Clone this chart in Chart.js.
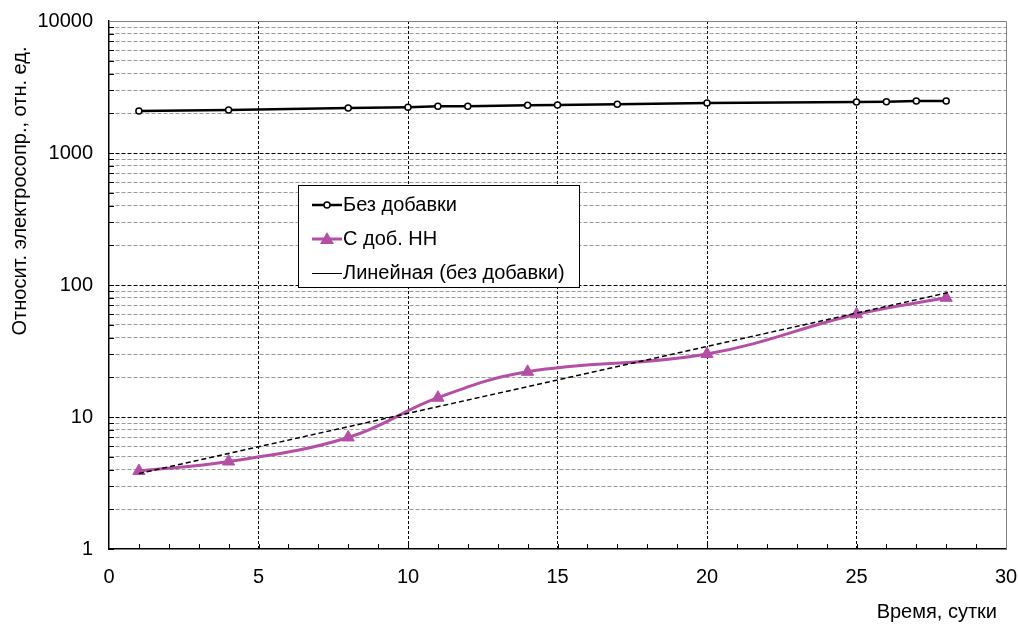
<!DOCTYPE html>
<html>
<head>
<meta charset="utf-8">
<script src="https://cdn.jsdelivr.net/npm/chart.js@4"></script>
<style>
  html, body { margin: 0; padding: 0; background: #fff; }
  #wrap { width: 1018px; height: 625px; }
</style>
</head>
<body>
<div id="wrap"><canvas id="myChart" width="1018" height="625"></canvas></div>
<script>
// days and values
const topX = [1, 4, 8, 10, 11, 12, 14, 15, 17, 20, 25, 26, 27, 28];
const topY = [2080, 2120, 2190, 2220, 2260, 2260, 2300, 2310, 2340, 2390, 2430, 2450, 2480, 2480];
const nnX = [1, 4, 8, 11, 14, 20, 25, 28];
const nnY = [3.9, 4.6, 7.0, 14, 22, 30, 60, 80];
const trendX = [1, 28.2];
const trendY = [3.73, 89];
const yTickLabels = [1, 10, 100, 1000, 10000];
const xTickLabels = [0, 5, 10, 15, 20, 25, 30];

const labelTop = 'Без добавки';
const labelNN = 'С доб. НН';
const labelTrend = 'Линейная (без добавки)';
const yTitle = 'Относит. электросопр., отн. ед.';
const xTitle = 'Время, сутки';

const magenta = '#B54FA5';
const FONT = '"Liberation Sans", Arial, sans-serif';
Chart.defaults.font.family = FONT;
Chart.defaults.color = '#000';

// all 1..9 values of each decade for the minor grid
const yTicks = [];
for (let i = 0; i < yTickLabels.length - 1; i++) {
    for (let k = 1; k < 10; k++) yTicks.push(yTickLabels[i] * k);
}
yTicks.push(yTickLabels[yTickLabels.length - 1]);

const pairs = (xs, ys) => xs.map((x, i) => ({ x: x, y: ys[i] }));

const extras = {
    id: 'extras',
    beforeDatasetsDraw(chart) {
        const { ctx, chartArea: a, scales: { x, y } } = chart;
        ctx.save();
        ctx.strokeStyle = '#000';
        ctx.lineWidth = 1;
        ctx.beginPath();
        for (let d = 1; d < 30; d++) {
            const px = Math.round(x.getPixelForValue(d)) + 0.5;
            ctx.moveTo(px, a.bottom);
            ctx.lineTo(px, a.bottom - 5);
        }
        yTicks.forEach(v => {
            const py = Math.round(y.getPixelForValue(v)) + 0.5;
            ctx.moveTo(a.left, py);
            ctx.lineTo(a.left + 5, py);
        });
        ctx.stroke();
        // frame top/right
        ctx.strokeStyle = '#808080';
        ctx.beginPath();
        ctx.moveTo(a.left, a.top + 0.5);
        ctx.lineTo(a.right + 0.5, a.top + 0.5);
        ctx.lineTo(a.right + 0.5, a.bottom);
        ctx.stroke();
        ctx.restore();
    },
    afterDraw(chart) {
        const { ctx } = chart;
        ctx.save();
        // axis titles
        ctx.fillStyle = '#000';
        ctx.font = '20px ' + FONT;
        ctx.textAlign = 'right';
        ctx.textBaseline = 'alphabetic';
        ctx.fillText(xTitle, 997, 618);
        ctx.translate(26, 191);
        ctx.rotate(-Math.PI / 2);
        ctx.textAlign = 'center';
        ctx.fillText(yTitle, 0, 0);
        ctx.restore();

        // legend box
        ctx.save();
        ctx.fillStyle = '#fff';
        ctx.fillRect(298, 185, 281, 102);
        ctx.strokeStyle = '#000';
        ctx.lineWidth = 1;
        ctx.strokeRect(298.5, 185.5, 281, 102);
        const rows = [205, 239, 273];
        ctx.font = '20px ' + FONT;
        ctx.textAlign = 'left';
        ctx.textBaseline = 'middle';
        // row 1
        ctx.strokeStyle = '#000';
        ctx.lineWidth = 2.5;
        ctx.beginPath(); ctx.moveTo(312, rows[0]); ctx.lineTo(342, rows[0]); ctx.stroke();
        ctx.fillStyle = '#fff'; ctx.lineWidth = 1.5;
        ctx.beginPath(); ctx.arc(327, rows[0], 3, 0, Math.PI * 2); ctx.fill(); ctx.stroke();
        // row 2
        ctx.strokeStyle = magenta; ctx.lineWidth = 3;
        ctx.beginPath(); ctx.moveTo(312, rows[1]); ctx.lineTo(342, rows[1]); ctx.stroke();
        ctx.fillStyle = magenta;
        ctx.beginPath(); ctx.moveTo(327, rows[1] - 7); ctx.lineTo(334, rows[1] + 5); ctx.lineTo(320, rows[1] + 5); ctx.closePath(); ctx.fill();
        // row 3
        ctx.strokeStyle = '#000'; ctx.lineWidth = 1;
        ctx.beginPath(); ctx.moveTo(312, rows[2] + 0.5); ctx.lineTo(342, rows[2] + 0.5); ctx.stroke();
        ctx.fillStyle = '#000';
        ctx.fillText(labelTop, 343, rows[0]);
        ctx.fillText(labelNN, 343, rows[1]);
        ctx.fillText(labelTrend, 343, rows[2]);
        ctx.restore();
    }
};

new Chart(document.getElementById('myChart').getContext('2d'), {
    type: 'line',
    data: {
        datasets: [
            {
                label: labelTrend,
                data: pairs(trendX, trendY),
                borderColor: '#000',
                borderWidth: 1.5,
                borderDash: [5, 3],
                pointRadius: 0,
                tension: 0,
                order: 0
            },
            {
                label: labelNN,
                data: pairs(nnX, nnY),
                borderColor: magenta,
                backgroundColor: magenta,
                borderWidth: 3,
                pointStyle: 'triangle',
                pointRadius: 7,
                pointBorderWidth: 1,
                tension: 0.4,
                order: 1
            },
            {
                label: labelTop,
                data: pairs(topX, topY),
                borderColor: '#000',
                borderWidth: 2.5,
                pointRadius: 3,
                pointBackgroundColor: '#fff',
                pointBorderColor: '#000',
                pointBorderWidth: 1.5,
                tension: 0,
                order: 2
            }
        ]
    },
    options: {
        responsive: false,
        animation: false,
        layout: { padding: { top: 21, right: 12, left: 0, bottom: 0 } },
        plugins: {
            legend: { display: false },
            tooltip: { enabled: false }
        },
        scales: {
            x: {
                type: 'linear',
                min: 0,
                max: 30,
                afterFit: (s) => { s.height = 76; s.paddingLeft = 0; s.paddingRight = 0; },
                afterBuildTicks: (s) => { s.ticks = xTickLabels.map(v => ({ value: v })); },
                ticks: { font: { size: 20 }, padding: 16, maxRotation: 0 },
                grid: {
                    drawTicks: false,
                    color: (c) => (c.tick && (c.tick.value === 0 || c.tick.value === 30)) ? 'rgba(0,0,0,0)' : '#000',
                    lineWidth: 1
                },
                border: { display: true, color: '#000', width: 1.5, dash: [3, 2] }
            },
            y: {
                type: 'logarithmic',
                min: 1,
                max: 10000,
                afterFit: (s) => { s.width = 109; s.paddingTop = 0; s.paddingBottom = 0; },
                afterBuildTicks: (s) => { s.ticks = yTicks.map(v => ({ value: v })); },
                ticks: {
                    font: { size: 20 },
                    padding: 16,
                    autoSkip: false,
                    callback: (v) => yTickLabels.includes(v) ? String(v) : ''
                },
                grid: {
                    drawTicks: false,
                    color: (c) => {
                        if (!c.tick) return '#999';
                        const v = c.tick.value;
                        if (v === 1 || v === 10000) return 'rgba(0,0,0,0)';
                        return yTickLabels.includes(v) ? '#000' : '#999';
                    },
                    lineWidth: 1
                },
                border: { display: true, color: '#000', width: 1.5, dash: [4, 2] }
            }
        }
    },
    plugins: [extras]
});
</script>
</body>
</html>
